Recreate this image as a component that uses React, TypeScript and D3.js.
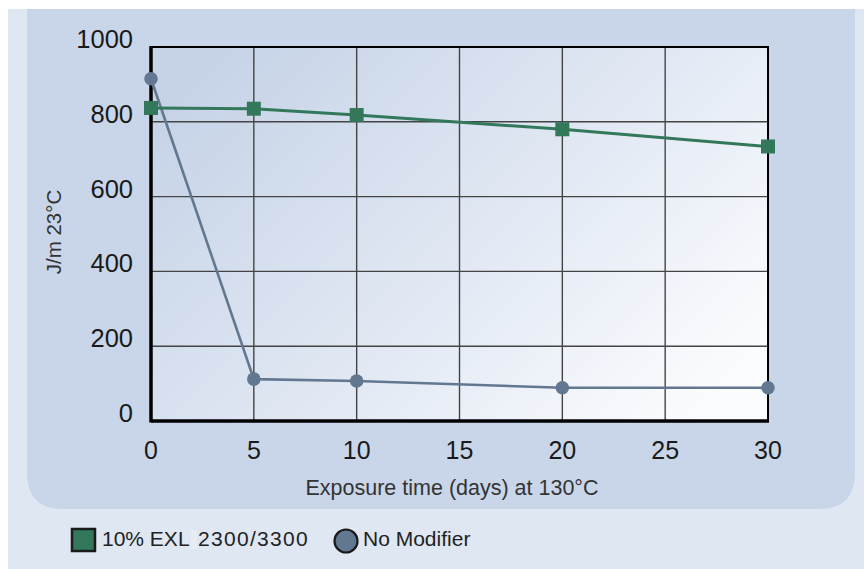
import React from "react";
import * as d3 from "d3";

const days = [0, 5, 10, 20, 30];
const exlValues = [837, 835, 818, 780, 734];
const noModValues = [915, 112, 107, 89, 89];
const xTicks = [0, 5, 10, 15, 20, 25, 30];
const yTicks = [0, 200, 400, 600, 800, 1000];
const xTitle = "Exposure time (days) at 130°C";
const yTitle = "J/m 23°C";
const legendExl = ["10% EXL", "2300/3300"];
const legendNoMod = "No Modifier";

const W = 864;
const H = 569;
const plot = { left: 151, right: 768, top: 47, bottom: 421 };
const FONT = "'Liberation Sans', Arial, Helvetica, sans-serif";
const GREEN = "#33785a";
const GRAY = "#627890";

export default function App() {
  const x = d3.scaleLinear().domain([0, 30]).range([plot.left, plot.right]);
  const y = d3.scaleLinear().domain([0, 1000]).range([plot.bottom, plot.top]);
  const line = d3
    .line<[number, number]>()
    .x((d) => x(d[0]))
    .y((d) => y(d[1]));
  const exlPts: [number, number][] = days.map((d, i) => [d, exlValues[i]]);
  const noModPts: [number, number][] = days.map((d, i) => [d, noModValues[i]]);

  return (
    <svg
      width={W}
      height={H}
      style={{ position: "absolute", left: 0, top: 0, display: "block" }}
      fontFamily={FONT}
    >
      <defs>
        <linearGradient id="plotBg" x1="0" y1="0.2" x2="1" y2="0.8">
          <stop offset="0" stopColor="#c6d3e7" />
          <stop offset="0.55" stopColor="#e2e9f4" />
          <stop offset="1" stopColor="#fbfcfe" />
        </linearGradient>
      </defs>
      <rect x={0} y={0} width={W} height={H} fill="#ffffff" />
      <rect x={8} y={9} width={W - 8} height={H - 9} fill="#dfe7f3" />
      <path
        d={`M27,9 H855 V${509 - 36} Q855,509 ${855 - 36},509 H${27 + 36} Q27,509 27,${509 - 36} Z`}
        fill="#c9d6e9"
      />
      <rect
        x={plot.left}
        y={plot.top}
        width={plot.right - plot.left}
        height={plot.bottom - plot.top}
        fill="url(#plotBg)"
      />
      {/* grid */}
      {xTicks.map((t) => (
        <line
          key={"gx" + t}
          x1={x(t)}
          x2={x(t)}
          y1={plot.top}
          y2={plot.bottom}
          stroke="#444"
          strokeWidth={1.4}
        />
      ))}
      {yTicks.map((t) => (
        <line
          key={"gy" + t}
          x1={plot.left}
          x2={plot.right}
          y1={y(t)}
          y2={y(t)}
          stroke="#444"
          strokeWidth={1.4}
        />
      ))}
      <rect
        x={plot.left}
        y={plot.top}
        width={plot.right - plot.left}
        height={plot.bottom - plot.top}
        fill="none"
        stroke="#000"
        strokeWidth={2}
      />
      <line x1={plot.left} x2={plot.left} y1={plot.top - 1} y2={plot.bottom + 1.5} stroke="#000" strokeWidth={3.5} />
      <line x1={plot.left} x2={plot.right + 1} y1={plot.bottom} y2={plot.bottom} stroke="#000" strokeWidth={3.5} />

      {/* y tick labels */}
      {yTicks.map((t) => (
        <text key={"ty" + t} x={133} y={y(t) + 1} textAnchor="end" fontSize={25.5} fill="#1a1a1a">
          {t}
        </text>
      ))}
      {/* x tick labels */}
      {xTicks.map((t) => (
        <text key={"tx" + t} x={x(t)} y={459} textAnchor="middle" fontSize={25} fill="#1a1a1a">
          {t}
        </text>
      ))}
      <text x={452} y={495} textAnchor="middle" fontSize={21.5} fill="#333">
        {xTitle}
      </text>
      <text
        transform={`translate(61,232) rotate(-90)`}
        textAnchor="middle"
        fontSize={20.5}
        fill="#333"
      >
        {yTitle}
      </text>

      {/* series */}
      <path d={line(noModPts) || ""} fill="none" stroke={GRAY} strokeWidth={2.6} />
      <path d={line(exlPts) || ""} fill="none" stroke={GREEN} strokeWidth={3} />
      {noModPts.map((p, i) => (
        <circle key={"c" + i} cx={x(p[0])} cy={y(p[1])} r={6.8} fill={GRAY} />
      ))}
      {exlPts.map((p, i) => (
        <rect key={"s" + i} x={x(p[0]) - 7} y={y(p[1]) - 7} width={14} height={14} fill={GREEN} />
      ))}

      {/* legend */}
      <rect x={72} y={529} width={23} height={22} fill={GREEN} stroke="#1a1a1a" strokeWidth={2.5} />
      <text x={102} y={545.5} fontSize={21} fill="#222">
        {legendExl[0]}
      </text>
      <rect x={191} y={530} width={6} height={19} fill="#e8edf5" />
      <text x={198} y={545.5} fontSize={21} fill="#222" letterSpacing={1.3}>
        {legendExl[1]}
      </text>
      <circle cx={346} cy={541} r={11.5} fill={GRAY} stroke="#1a1a1a" strokeWidth={2.2} />
      <text x={363} y={545.5} fontSize={21} fill="#222">
        {legendNoMod}
      </text>
    </svg>
  );
}
